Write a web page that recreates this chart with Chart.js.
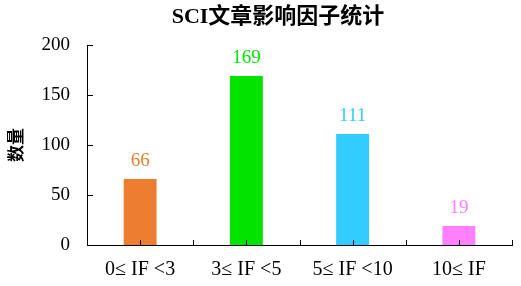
<!DOCTYPE html>
<html>
<head>
<meta charset="utf-8">
<script src="https://cdn.jsdelivr.net/npm/chart.js@4"></script>
<style>
  html, body { margin: 0; padding: 0; background: #fff; }
  #wrap { width: 521px; height: 286px; }
</style>
</head>
<body>
<div id="wrap"><canvas id="chart" width="521" height="286"></canvas></div>
<script>
// datos del gráfico
const titulo = 'SCI文章影响因子统计';
const categorias = ['0≤ IF <3', '3≤ IF <5', '5≤ IF <10', '10≤ IF'];
const cantidades = [66, 169, 111, 19];
const colores = ['#ED7D31', '#00E400', '#33CCFF', '#FF80FF'];
const yTicks = [0, 50, 100, 150, 200];

const serif = "'Liberation Serif', 'Times New Roman', 'Noto Sans CJK SC', serif";

// títulos, etiquetas de valores y marcas hacia dentro
const extras = {
  id: 'extras',
  afterDraw(chart) {
    const { ctx, chartArea } = chart;
    const y = chart.scales.y;
    ctx.save();

    // título
    ctx.fillStyle = '#000';
    ctx.font = `bold 22px ${serif}`;
    ctx.textAlign = 'center';
    ctx.textBaseline = 'middle';
    ctx.fillText(titulo, 278, 17);

    // valores sobre las barras
    ctx.font = `19px ${serif}`;
    ctx.textBaseline = 'alphabetic';
    chart.getDatasetMeta(0).data.forEach((bar, i) => {
      ctx.fillStyle = colores[i];
      ctx.fillText(String(cantidades[i]), bar.x, bar.y - 13);
    });

    // marcas del eje
    ctx.strokeStyle = '#000';
    ctx.lineWidth = 1;
    ctx.beginPath();
    yTicks.forEach(v => {
      const py = Math.round(y.getPixelForValue(v)) + 0.5;
      ctx.moveTo(chartArea.left, py);
      ctx.lineTo(chartArea.left + 6, py);
    });
    const step = (chartArea.right - chartArea.left) / categorias.length;
    for (let i = 1; i <= categorias.length * 2; i++) {
      const px = Math.round(chartArea.left + i * step / 2) + 0.5;
      ctx.moveTo(px, chartArea.bottom);
      ctx.lineTo(px, chartArea.bottom - 5);
    }
    ctx.stroke();
    ctx.restore();
  }
};

new Chart(document.getElementById('chart'), {
  type: 'bar',
  data: {
    labels: categorias,
    datasets: [{
      data: cantidades,
      backgroundColor: colores,
      borderWidth: 0,
      barPercentage: 0.31,
      categoryPercentage: 1,
    }],
  },
  options: {
    responsive: false,
    animation: false,
    layout: { padding: { top: 45, right: 9, left: 0, bottom: 0 } },
    plugins: {
      legend: { display: false },
      tooltip: { enabled: false },
    },
    scales: {
      x: {
        grid: { display: false, drawTicks: false },
        border: { display: true, color: '#000', width: 1 },
        ticks: { color: '#000', font: { family: serif, size: 20 }, padding: 13, maxRotation: 0 },
        afterFit(scale) { scale.height = 41; },
      },
      y: {
        min: 0,
        max: 200,
        grid: { display: false, drawTicks: false },
        border: { display: true, color: '#000', width: 1 },
        ticks: { stepSize: 50, color: '#000', font: { family: serif, size: 19 }, padding: 17 },
        title: {
          display: true,
          text: '数量',
          color: '#000',
          font: { family: serif, size: 17, weight: 'bold' },
          padding: { top: 7, bottom: 0 },
        },
        afterFit(scale) { scale.width = 87; },
      },
    },
  },
  plugins: [extras],
});
</script>
</body>
</html>
